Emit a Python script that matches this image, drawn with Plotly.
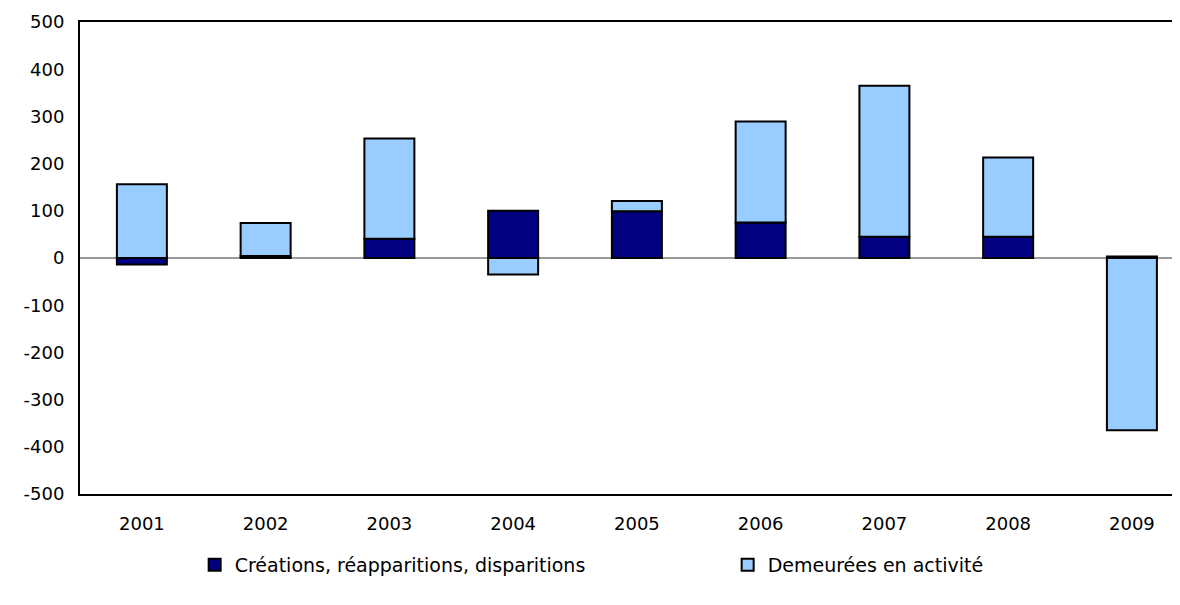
import plotly.graph_objects as go

years = ["2001", "2002", "2003", "2004", "2005", "2006", "2007", "2008", "2009"]
creations = [-14, 4, 41, 100, 99, 75, 45, 45, 3]
demeurees = [156, 70, 212, -35, 22, 214, 320, 168, -365]
y_ticks = [-500, -400, -300, -200, -100, 0, 100, 200, 300, 400, 500]
y_labels = ["-500", "-400", "-300", "-200", "-100", "0", "100", "200", "300", "400", "500"]

dark = "#000080"
light = "#99CCFF"

fig = go.Figure()
fig.add_trace(go.Bar(
    x=years, y=creations, name="Créations, réapparitions, disparitions",
    marker=dict(color=dark, line=dict(color="black", width=2)),
))
fig.add_trace(go.Bar(
    x=years, y=demeurees, name="Demeurées en activité",
    marker=dict(color=light, line=dict(color="black", width=2)),
))

fig.update_layout(
    barmode="relative",
    bargap=0.596,
    width=1164, height=597,
    margin=dict(l=72, r=0, t=14, b=111, autoexpand=False),
    plot_bgcolor="white", paper_bgcolor="white",
    font=dict(family="DejaVu Sans", size=18, color="black"),
    legend=dict(
        orientation="h", x=0.105, xanchor="left", y=-0.11, yanchor="top",
        font=dict(family="DejaVu Sans", size=19),
        entrywidth=488, itemwidth=30, traceorder="normal",
    ),
)
# the frame is cut on the right in the reference, so only the top is mirrored
fig.update_xaxes(
    range=[-0.5, 8.324], showline=True, linecolor="black", linewidth=2,
    mirror=True, ticks="", showgrid=False, automargin=False,
    ticklabelstandoff=12,
)
fig.update_yaxes(
    range=[-500, 500], tickvals=y_ticks, ticktext=y_labels,
    showline=True, linecolor="black", linewidth=2,
    showgrid=False, zeroline=True, zerolinecolor="#999999", zerolinewidth=2,
    ticks="", automargin=False, ticklabelstandoff=10,
)

fig.write_html("out.html")
